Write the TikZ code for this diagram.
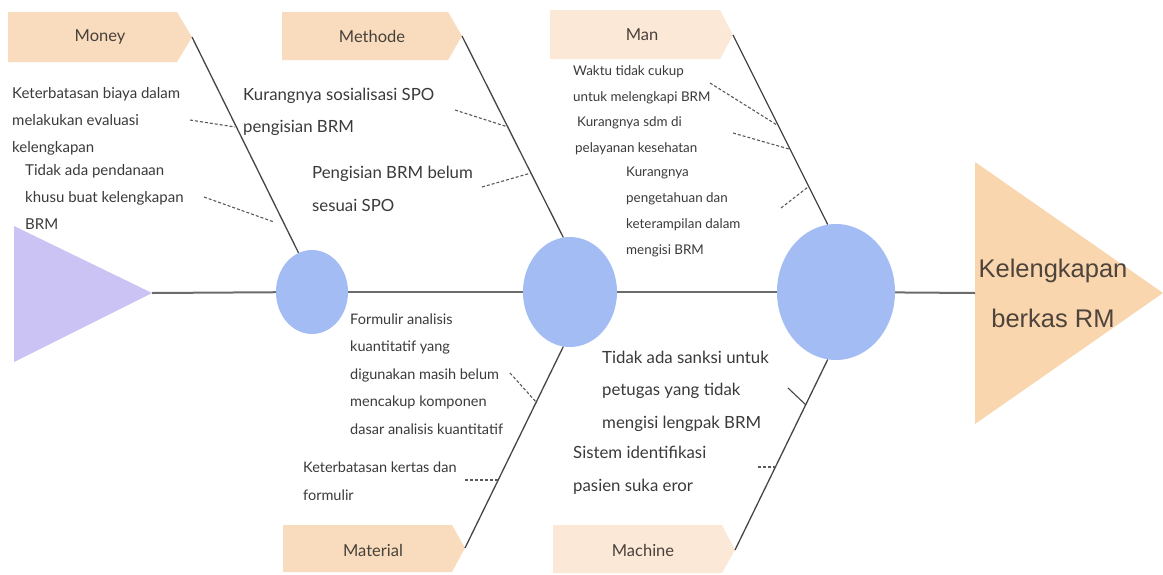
\documentclass[tikz,border=0pt]{standalone}
\usepackage{fontspec}
\setmainfont{Lato}
\newfontfamily\headfont{Liberation Sans}
\usetikzlibrary{shapes.geometric}
\definecolor{peach}{HTML}{F9DCBD}
\definecolor{peachlight}{HTML}{FCE8D7}
\definecolor{headc}{HTML}{FAD6AE}
\definecolor{bluec}{HTML}{A3BCF4}
\definecolor{purplec}{HTML}{CBC3F4}
\definecolor{txt}{HTML}{3A3A3A}
\definecolor{bonec}{HTML}{454545}
\definecolor{spinec}{HTML}{6B6B6B}
\tikzset{
  bone/.style={draw=bonec, line width=1.3pt},
  spine/.style={draw=spinec, line width=2pt},
  sub/.style={draw=bonec!90, line width=1.1pt, dash pattern=on 3pt off 2pt},
  circ/.style={ellipse, fill=bluec, draw=none, inner sep=0pt},
  cause/.style={anchor=west, align=left, inner sep=0pt, text=txt},
  moneyf/.style={cause, font=\fontsize{15}{27}\selectfont},
  manf/.style={cause, font=\fontsize{13.4}{26}\selectfont},
  matf/.style={cause, font=\fontsize{14.5}{27.5}\selectfont},
  medium/.style={cause, font=\fontsize{16.8}{32.5}\selectfont},
  catlabel/.style={inner sep=0pt, text=txt!90!brown, font=\fontsize{16.5}{18}\selectfont},
}
\begin{document}
\begin{tikzpicture}[x=1pt,y=-1pt]
\useasboundingbox (0,0) rectangle (1163,574);
% tail
\fill[purplec] (14,226) -- (152,293) -- (14,362) -- cycle;
\coordinate (tailtip) at (152,293);
% head
\fill[headc] (975,162) -- (1163,293) -- (975,424) -- cycle;
\coordinate (headL) at (975,293);
\node[inner sep=0pt, align=center, text=txt!85!brown, font=\headfont\fontsize{25.5}{50}\selectfont] (headtext) at (1053,293) {Kelengkapan\\berkas RM};
% circles
\node[circ, minimum width=72pt, minimum height=84pt] (c1) at (312,292) {};
\node[circ, minimum width=94pt, minimum height=110pt] (c2) at (570,292) {};
\node[circ, minimum width=118pt, minimum height=136pt] (c3) at (836,292) {};
% spine
\draw[spine] (tailtip) -- (c1);
\draw[spine] (c1) -- (c2);
\draw[spine] (c2) -- (c3);
\draw[spine] (c3) -- (headL);
% category boxes
\fill[peach] (8,12) -- (177,12) -- (192,37) -- (177,62) -- (8,62) -- cycle;
\coordinate (tMoney) at (192,37);
\node[catlabel] (lMoney) at (100,37) {Money};
\fill[peach] (282,12) -- (448,12) -- (462,36) -- (448,60) -- (282,60) -- cycle;
\coordinate (tMethode) at (462,36);
\node[catlabel] (lMethode) at (372,36) {Methode};
\fill[peachlight] (550,10) -- (720,10) -- (733,35) -- (720,59) -- (550,59) -- cycle;
\coordinate (tMan) at (733,35);
\node[catlabel] (lMan) at (642,35) {Man};
\fill[peach] (283,525) -- (452,525) -- (465,548) -- (452,572) -- (283,572) -- cycle;
\coordinate (tMaterial) at (465,548);
\node[catlabel] (lMaterial) at (373,550) {Material};
\fill[peachlight] (553,525) -- (722,525) -- (735,550) -- (722,573) -- (553,573) -- cycle;
\coordinate (tMachine) at (735,550);
\node[catlabel] (lMachine) at (643,550) {Machine};
% bones
\draw[bone] (tMoney) -- (c1.109);
\draw[bone] (tMethode) -- (c2.97);
\draw[bone] (tMan) -- (c3.97);
\draw[bone] (tMaterial) -- (c2.263);
\draw[bone] (tMachine) -- (c3.263);
% cause texts
\node[moneyf] (m1) at (12,121) {Keterbatasan biaya dalam\\melakukan evaluasi\\kelengkapan};
\node[moneyf] (m2) at (25,197) {Tidak ada pendanaan\\khusu buat kelengkapan\\BRM};
\node[medium] (me1) at (243,112) {Kurangnya sosialisasi SPO\\pengisian BRM};
\node[medium] (me2) at (312,189) {Pengisian BRM belum\\sesuai SPO};
\node[manf] (ma1) at (573,85) {Waktu tidak cukup\\untuk melengkapi BRM};
\node[manf] (ma2) at (575,136) {\hspace*{2pt}Kurangnya sdm di\\pelayanan kesehatan};
\node[manf] (ma3) at (626,212) {Kurangnya\\pengetahuan dan\\keterampilan dalam\\mengisi BRM};
\node[matf] (mt1) at (350,374) {Formulir analisis\\kuantitatif yang\\digunakan masih belum\\mencakup komponen\\dasar analisis kuantitatif};
\node[matf] (mt2) at (303,481) {Keterbatasan kertas dan\\formulir};
\node[medium] (mc1) at (602,391) {Tidak ada sanksi untuk\\petugas yang tidak\\mengisi lengpak BRM};
\node[medium] (mc2) at (573,470) {Sistem identifikasi\\pasien suka eror};
% sub-bone coordinates
\coordinate (a1) at (190,120); \coordinate (b1) at (235,127);
\coordinate (a2) at (204,197); \coordinate (b2) at (274,222);
\coordinate (a3) at (455,110); \coordinate (b3) at (508,127);
\coordinate (a4) at (482,187); \coordinate (b4) at (531,173);
\coordinate (a5) at (710,83);  \coordinate (b5) at (777,125);
\coordinate (a6) at (733,133); \coordinate (b6) at (789,149);
\coordinate (a7) at (781,208); \coordinate (b7) at (808,187);
\coordinate (a8) at (510,373); \coordinate (b8) at (537,403);
\coordinate (a9) at (465,480); \coordinate (b9) at (498,480);
\coordinate (a10) at (788,388); \coordinate (b10) at (806,405);
\coordinate (a11) at (758,467); \coordinate (b11) at (776,467);
\draw[sub] (a1) -- (b1);
\draw[sub] (a2) -- (b2);
\draw[sub] (a3) -- (b3);
\draw[sub] (a4) -- (b4);
\draw[sub] (a5) -- (b5);
\draw[sub] (a6) -- (b6);
\draw[sub] (a7) -- (b7);
\draw[sub] (a8) -- (b8);
\draw[sub] (a9) -- (b9);
\draw[bone, line width=1.1pt] (a10) -- (b10);
\draw[sub] (a11) -- (b11);
\end{tikzpicture}
\end{document}
